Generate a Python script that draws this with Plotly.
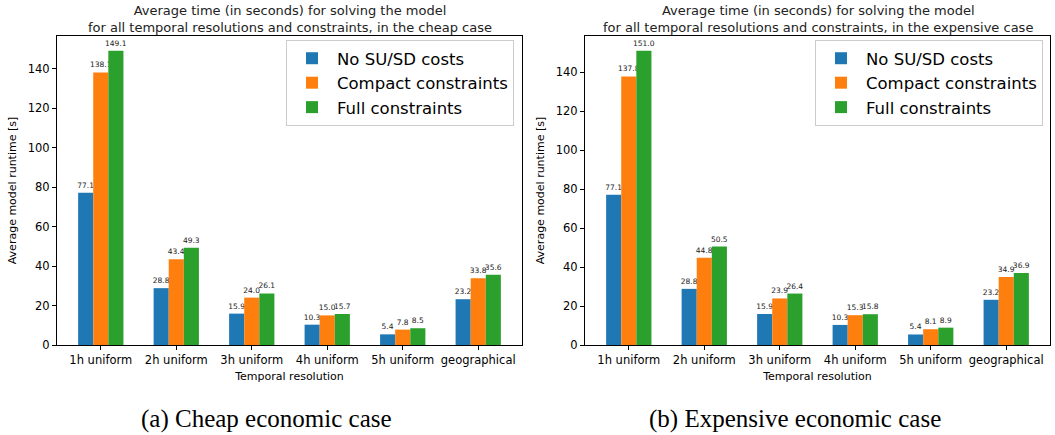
import plotly.graph_objects as go

# Temporal resolutions compared in both economic cases
resolutions = ["1h uniform", "2h uniform", "3h uniform", "4h uniform", "5h uniform", "geographical"]
series_names = ["No SU/SD costs", "Compact constraints", "Full constraints"]
colors = ["#1f77b4", "#ff7f0e", "#2ca02c"]

# Average runtimes [s], cheap case
cheap_no_susd = [77.1, 28.8, 15.9, 10.3, 5.4, 23.2]
cheap_compact = [138.1, 43.4, 24.0, 15.0, 7.8, 33.8]
cheap_full = [149.1, 49.3, 26.1, 15.7, 8.5, 35.6]

# Average runtimes [s], expensive case
exp_no_susd = [77.1, 28.8, 15.9, 10.3, 5.4, 23.2]
exp_compact = [137.8, 44.8, 23.9, 15.3, 8.1, 34.9]
exp_full = [151.0, 50.5, 26.4, 15.8, 8.9, 36.9]

y_ticks = [0, 20, 40, 60, 80, 100, 120, 140]

W, H = 1055, 435
FONT = "DejaVu Sans"

fig = go.Figure()

panels = [
    ("x", "y", "legend", [cheap_no_susd, cheap_compact, cheap_full]),
    ("x2", "y2", "legend2", [exp_no_susd, exp_compact, exp_full]),
]

for xa, ya, leg, data in panels:
    for name, color, vals in zip(series_names, colors, data):
        fig.add_trace(go.Bar(
            x=list(range(len(resolutions))), y=vals, name=name,
            marker=dict(color=color, line=dict(width=0)),
            text=[f"{v:.1f}" for v in vals], textposition="outside",
            textfont=dict(size=7.5, color="#222", family=FONT),
            constraintext="none", cliponaxis=False,
            xaxis=xa, yaxis=ya, legend=leg,
        ))


def px_x(p):
    return p / W


def px_y(p):
    return 1 - p / H


axis_common = dict(
    showline=True, linecolor="black", linewidth=1, mirror=True,
    ticks="outside", ticklen=4, tickcolor="black",
    showgrid=False, zeroline=False, automargin=False,
    tickfont=dict(family=FONT, size=11.5, color="black"),
)

ydom = [px_y(345), px_y(36)]
fig.update_layout(
    width=W, height=H,
    margin=dict(l=0, r=0, t=0, b=0, autoexpand=False),
    plot_bgcolor="white", paper_bgcolor="white",
    barmode="group", bargap=0.4, bargroupgap=0,
    font=dict(family=FONT, color="black"),
    xaxis=dict(domain=[px_x(57), px_x(522)], range=[-0.58, 5.58],
               tickvals=list(range(6)), ticktext=resolutions,
               title=dict(text="Temporal resolution", font=dict(size=11), standoff=6),
               anchor="y", **axis_common),
    yaxis=dict(domain=ydom, range=[0, 149.1 * 1.05], tickvals=y_ticks,
               title=dict(text="Average model runtime [s]", font=dict(size=11), standoff=8),
               anchor="x", **axis_common),
    xaxis2=dict(domain=[px_x(585), px_x(1050)], range=[-0.58, 5.58],
                tickvals=list(range(6)), ticktext=resolutions,
                title=dict(text="Temporal resolution", font=dict(size=11), standoff=6),
                anchor="y2", **axis_common),
    yaxis2=dict(domain=ydom, range=[0, 151.0 * 1.05], tickvals=y_ticks,
                title=dict(text="Average model runtime [s]", font=dict(size=11), standoff=8),
                anchor="x2", **axis_common),
    legend=dict(x=px_x(286), y=px_y(40), xanchor="left", yanchor="top",
                bordercolor="#cccccc", borderwidth=1, bgcolor="rgba(255,255,255,0.8)",
                font=dict(size=16.5, family=FONT), tracegroupgap=0, itemwidth=40),
    legend2=dict(x=px_x(815), y=px_y(40), xanchor="left", yanchor="top",
                 bordercolor="#cccccc", borderwidth=1, bgcolor="rgba(255,255,255,0.8)",
                 font=dict(size=16.5, family=FONT), tracegroupgap=0, itemwidth=40),
)

titles = [
    (289.5, "Average time (in seconds) for solving the model<br>for all temporal resolutions and constraints, in the cheap case"),
    (817.5, "Average time (in seconds) for solving the model<br>for all temporal resolutions and constraints, in the expensive case"),
]
for cx, txt in titles:
    fig.add_annotation(text=txt, x=px_x(cx), y=px_y(37), xref="paper", yref="paper",
                       xanchor="center", yanchor="bottom", showarrow=False,
                       font=dict(family=FONT, size=13, color="#222"))

captions = [(266, "(a) Cheap economic case"), (795, "(b) Expensive economic case")]
for cx, txt in captions:
    fig.add_annotation(text=txt, x=px_x(cx), y=px_y(419), xref="paper", yref="paper",
                       xanchor="center", yanchor="middle", showarrow=False,
                       font=dict(family="Liberation Serif", size=25, color="black"))

fig.write_html("out.html")
